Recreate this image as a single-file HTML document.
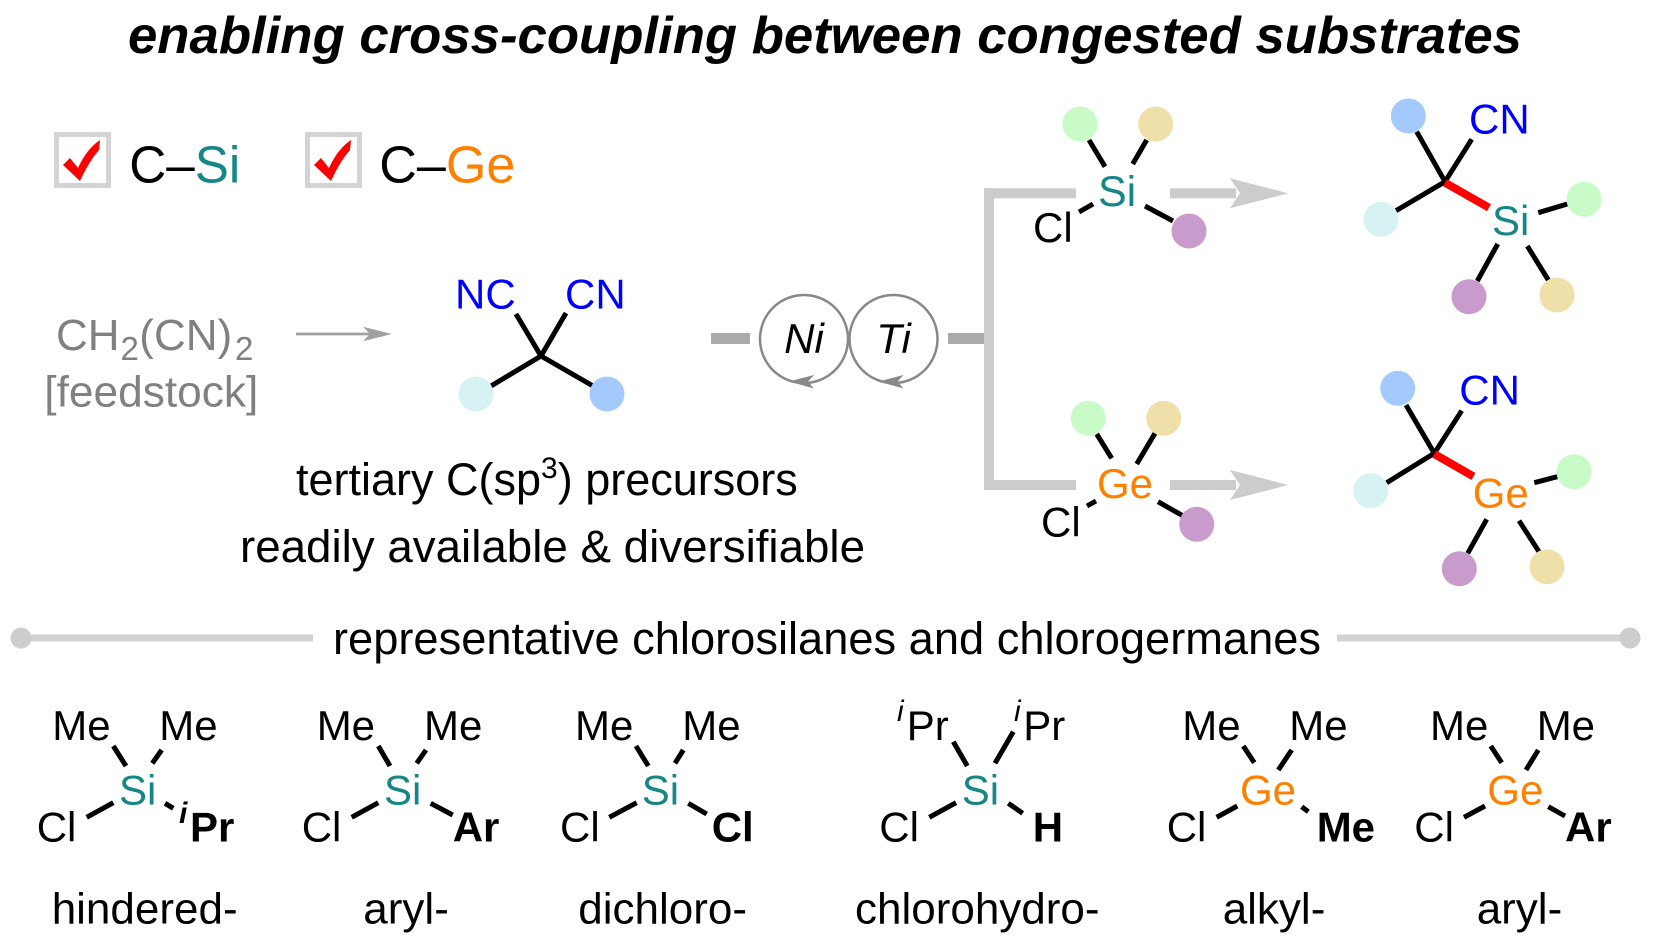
<!DOCTYPE html>
<html><head><meta charset="utf-8">
<style>
html,body{margin:0;padding:0;background:#fff;}
svg{display:block;}
text{font-family:"Liberation Sans",Arial,sans-serif;}
.b{stroke:#000;stroke-width:5;stroke-linecap:butt;}
.t{fill:#168686;}
.o{fill:#ff8000;}
.bl{fill:#0000ff;}
</style></head>
<body>
<svg width="1672" height="944" viewBox="0 0 1672 944" xmlns="http://www.w3.org/2000/svg">
<rect width="1672" height="944" fill="#fff"/>

<!-- Title -->
<text x="128" y="53" font-size="52" font-weight="bold" font-style="italic" textLength="1394" lengthAdjust="spacingAndGlyphs">enabling cross-coupling between congested substrates</text>

<!-- Checkboxes -->
<rect x="56.5" y="134.5" width="52" height="51" fill="#fff" stroke="#d4d4d4" stroke-width="5"/>
<path d="M63,165 L70,158 L78,168 C84,155 91,146 100,140 L99,150 C92,158 86,168 80,181 Z" fill="#ff0000"/>
<text x="129.3" y="182.7" font-size="52" textLength="111" lengthAdjust="spacingAndGlyphs">C–<tspan class="t">Si</tspan></text>

<rect x="307.5" y="134.5" width="52" height="51" fill="#fff" stroke="#d4d4d4" stroke-width="5"/>
<path d="M314,165 L321,158 L329,168 C335,155 342,146 351,140 L350,150 C343,158 337,168 331,181 Z" fill="#ff0000"/>
<text x="379.3" y="182.7" font-size="52" textLength="136" lengthAdjust="spacingAndGlyphs">C–<tspan class="o">Ge</tspan></text>

<!-- Feedstock -->
<g fill="#808080">
<text x="56" y="350" font-size="44">CH</text>
<text x="120.5" y="360" font-size="33">2</text>
<text x="139.3" y="350" font-size="44">(CN)</text>
<text x="235" y="360" font-size="33">2</text>
<text x="44.3" y="406.7" font-size="44" textLength="214" lengthAdjust="spacingAndGlyphs">[feedstock]</text>
</g>
<line x1="296" y1="334" x2="372" y2="334" stroke="#a0a0a0" stroke-width="2.7"/>
<path d="M391.7,334 L363,326.7 L370,334 L363,341.3 Z" fill="#a0a0a0"/>

<!-- Malononitrile -->
<text x="455" y="308.3" font-size="42" class="bl">NC</text>
<text x="565" y="308.3" font-size="42" class="bl">CN</text>
<line class="b" x1="516" y1="314" x2="541" y2="356"/>
<line class="b" x1="566" y1="313" x2="541" y2="356"/>
<line class="b" x1="541" y1="356" x2="491" y2="386"/>
<line class="b" x1="541" y1="356" x2="593" y2="386"/>
<circle cx="476" cy="394" r="17.5" fill="#d6f2f2"/>
<circle cx="607" cy="394" r="17.5" fill="#a3c9fd"/>

<text x="296" y="495" font-size="45">tertiary C(sp<tspan font-size="30" dy="-17">3</tspan><tspan dy="17">) precursors</tspan></text>
<text x="240" y="562" font-size="45" textLength="625" lengthAdjust="spacingAndGlyphs">readily available &amp; diversifiable</text>

<!-- Ni / Ti -->
<rect x="711" y="333" width="39" height="11" fill="#aaaaaa"/>
<circle cx="804" cy="339" r="44" fill="none" stroke="#888" stroke-width="2.5"/>
<circle cx="893.5" cy="339" r="44" fill="none" stroke="#888" stroke-width="2.5"/>
<path d="M789,381.5 L814,375 L808,381.5 L814,388.5 Z" fill="#888"/>
<path d="M878.5,381.5 L903.5,375 L897.5,381.5 L903.5,388.5 Z" fill="#888"/>
<text x="804" y="353" font-size="42" font-style="italic" text-anchor="middle">Ni</text>
<text x="893.5" y="353" font-size="42" font-style="italic" text-anchor="middle">Ti</text>
<path d="M948,333 L985,333 L991,338.5 L985,344 L948,344 Z" fill="#aaaaaa"/>

<!-- Bracket -->
<g fill="#cccccc">
<rect x="984" y="188" width="10" height="302"/>
<rect x="984" y="188.3" width="92" height="10"/>
<rect x="984" y="480" width="92" height="10"/>
<rect x="1170" y="188.3" width="66" height="10"/>
<path d="M1230,178.3 L1288.3,193.3 L1230,208.3 L1240,193.3 Z"/>
<rect x="1170" y="480" width="66" height="10"/>
<path d="M1230,470 L1288.3,485 L1230,500 L1240,485 Z"/>
</g>

<!-- Si reagent -->
<line class="b" x1="1089" y1="140" x2="1105" y2="166.7"/>
<line class="b" x1="1146.7" y1="140" x2="1132.7" y2="164"/>
<line class="b" x1="1079" y1="212" x2="1093" y2="204"/>
<line class="b" x1="1145" y1="206" x2="1173" y2="221"/>
<circle cx="1080" cy="124" r="17.5" fill="#c8fbc8"/>
<circle cx="1155.7" cy="124" r="17.5" fill="#efe0aa"/>
<circle cx="1189" cy="231" r="17.5" fill="#c99bcc"/>
<text x="1098" y="206" font-size="43" class="t">Si</text>
<text x="1033" y="242" font-size="42">Cl</text>

<!-- Ge reagent -->
<line class="b" x1="1096.7" y1="434" x2="1111.7" y2="458.3"/>
<line class="b" x1="1155" y1="433.3" x2="1136.7" y2="464"/>
<line class="b" x1="1087" y1="506" x2="1096" y2="501"/>
<line class="b" x1="1158" y1="501.7" x2="1182.7" y2="515.7"/>
<circle cx="1088.3" cy="418.3" r="17.5" fill="#c8fbc8"/>
<circle cx="1163.7" cy="418.3" r="17.5" fill="#efe0aa"/>
<circle cx="1196.7" cy="524.3" r="17.5" fill="#c99bcc"/>
<text x="1097" y="498" font-size="42" class="o">Ge</text>
<text x="1041" y="536.7" font-size="42">Cl</text>

<!-- Si product -->
<line class="b" x1="1416.7" y1="131.7" x2="1445" y2="181.7"/>
<line class="b" x1="1471.7" y1="139.3" x2="1445" y2="181.7"/>
<line class="b" x1="1396" y1="210.7" x2="1445" y2="181.7"/>
<line x1="1445" y1="182.7" x2="1489" y2="207.7" stroke="#ff0000" stroke-width="8"/>
<line class="b" x1="1538.3" y1="212.7" x2="1567.3" y2="204"/>
<line class="b" x1="1497.7" y1="244" x2="1477.3" y2="281"/>
<line class="b" x1="1527.3" y1="246" x2="1548.3" y2="280"/>
<circle cx="1408.3" cy="116" r="17.5" fill="#a3c9fd"/>
<circle cx="1381" cy="219.3" r="17.5" fill="#d6f2f2"/>
<circle cx="1584" cy="199.3" r="17.5" fill="#c8fbc8"/>
<circle cx="1469" cy="296.7" r="17.5" fill="#c99bcc"/>
<circle cx="1557" cy="295" r="17.5" fill="#efe0aa"/>
<text x="1469" y="133.3" font-size="42" class="bl">CN</text>
<text x="1492" y="235" font-size="42" class="t">Si</text>

<!-- Ge product -->
<line class="b" x1="1406" y1="405" x2="1434.3" y2="453.3"/>
<line class="b" x1="1461.7" y1="410.7" x2="1434.3" y2="453.3"/>
<line class="b" x1="1386.7" y1="482.7" x2="1434.3" y2="453.3"/>
<line x1="1434.3" y1="454" x2="1473.5" y2="476.5" stroke="#ff0000" stroke-width="8"/>
<line class="b" x1="1534.3" y1="482.7" x2="1557.3" y2="476.7"/>
<line class="b" x1="1486.7" y1="519.3" x2="1467.7" y2="553.3"/>
<line class="b" x1="1519" y1="520.7" x2="1539" y2="551.7"/>
<circle cx="1397.7" cy="388.3" r="17.5" fill="#a3c9fd"/>
<circle cx="1370.7" cy="490.7" r="17.5" fill="#d6f2f2"/>
<circle cx="1574" cy="471.7" r="17.5" fill="#c8fbc8"/>
<circle cx="1459.3" cy="568.7" r="17.5" fill="#c99bcc"/>
<circle cx="1547" cy="566.7" r="17.5" fill="#efe0aa"/>
<text x="1459.3" y="404.3" font-size="42" class="bl">CN</text>
<text x="1472.7" y="507.3" font-size="42" class="o">Ge</text>

<!-- Divider -->
<rect x="21" y="634.5" width="292" height="7" fill="#d2d2d2"/>
<circle cx="21" cy="638" r="10.5" fill="#cdcdcd"/>
<rect x="1337" y="634.5" width="293" height="7" fill="#d2d2d2"/>
<circle cx="1630" cy="638" r="10.5" fill="#cdcdcd"/>
<text x="333" y="654" font-size="45" textLength="988" lengthAdjust="spacingAndGlyphs">representative chlorosilanes and chlorogermanes</text>

<!-- Bottom structures -->
<g font-size="42">
<!-- 1 -->
<text x="52.3" y="740">Me</text><text x="159.3" y="740">Me</text>
<text x="119" y="804.3" class="t">Si</text>
<text x="36.7" y="841.7">Cl</text>
<text x="179" y="823" font-size="30" font-weight="bold" font-style="italic">i</text>
<text x="190" y="841.7" font-weight="bold">Pr</text>
<line class="b" x1="113.3" y1="746" x2="126" y2="766"/>
<line class="b" x1="161.7" y1="750" x2="152.3" y2="763.3"/>
<line class="b" x1="86.7" y1="817.3" x2="113.3" y2="802.7"/>
<line class="b" x1="165" y1="803.3" x2="173.3" y2="808.3"/>
<!-- 2 -->
<text x="316.7" y="740">Me</text><text x="424" y="740">Me</text>
<text x="384" y="804.3" class="t">Si</text>
<text x="301.7" y="841.7">Cl</text>
<text x="452.7" y="841.7" font-weight="bold">Ar</text>
<line class="b" x1="378.3" y1="746" x2="390" y2="766"/>
<line class="b" x1="426" y1="750" x2="416.7" y2="763.3"/>
<line class="b" x1="351.7" y1="817.3" x2="378.3" y2="802.7"/>
<line class="b" x1="430.7" y1="803.3" x2="452.7" y2="815"/>
<!-- 3 -->
<text x="575" y="740">Me</text><text x="682.3" y="740">Me</text>
<text x="641.7" y="804.3" class="t">Si</text>
<text x="560" y="841.7">Cl</text>
<text x="711.7" y="841.7" font-weight="bold">Cl</text>
<line class="b" x1="636" y1="746" x2="648.3" y2="766"/>
<line class="b" x1="683.3" y1="750" x2="675" y2="763.3"/>
<line class="b" x1="609.3" y1="817.3" x2="636.7" y2="802.7"/>
<line class="b" x1="688.3" y1="803.3" x2="706.7" y2="814"/>
<!-- 4 -->
<text x="897" y="721" font-size="30" font-style="italic">i</text>
<text x="906.7" y="740">Pr</text>
<text x="1014" y="721" font-size="30" font-style="italic">i</text>
<text x="1023.3" y="740">Pr</text>
<text x="961.7" y="804.3" class="t">Si</text>
<text x="879.3" y="841.7">Cl</text>
<text x="1032.7" y="841.7" font-weight="bold">H</text>
<line class="b" x1="953.3" y1="741.7" x2="967.3" y2="766"/>
<line class="b" x1="1013.3" y1="731.7" x2="995" y2="763.3"/>
<line class="b" x1="929.3" y1="817.3" x2="956" y2="802.7"/>
<line class="b" x1="1008.3" y1="803.3" x2="1022.7" y2="813.3"/>
<!-- 5 -->
<text x="1182.3" y="740">Me</text><text x="1289.3" y="740">Me</text>
<text x="1240" y="804.3" class="o">Ge</text>
<text x="1166.7" y="841.7">Cl</text>
<text x="1316.7" y="841.7" font-weight="bold">Me</text>
<line class="b" x1="1243.3" y1="746" x2="1254.3" y2="762.7"/>
<line class="b" x1="1291.7" y1="750" x2="1278.3" y2="770"/>
<line class="b" x1="1216.7" y1="817.3" x2="1237.3" y2="806"/>
<line class="b" x1="1301.7" y1="806.7" x2="1308.3" y2="811.7"/>
<!-- 6 -->
<text x="1430" y="740">Me</text><text x="1536.7" y="740">Me</text>
<text x="1487.3" y="804.3" class="o">Ge</text>
<text x="1414.3" y="841.7">Cl</text>
<text x="1565" y="841.7" font-weight="bold">Ar</text>
<line class="b" x1="1490.7" y1="746" x2="1501.7" y2="762.7"/>
<line class="b" x1="1538.3" y1="750" x2="1526" y2="770"/>
<line class="b" x1="1464" y1="817.3" x2="1485" y2="806"/>
<line class="b" x1="1548.3" y1="806.7" x2="1565" y2="816"/>
</g>

<g font-size="44">
<text x="51.7" y="923.3">hindered-</text>
<text x="363.3" y="923.3">aryl-</text>
<text x="578.3" y="923.3">dichloro-</text>
<text x="855" y="923.3">chlorohydro-</text>
<text x="1222.7" y="923.3">alkyl-</text>
<text x="1476.7" y="923.3">aryl-</text>
</g>
</svg>
</body></html>
